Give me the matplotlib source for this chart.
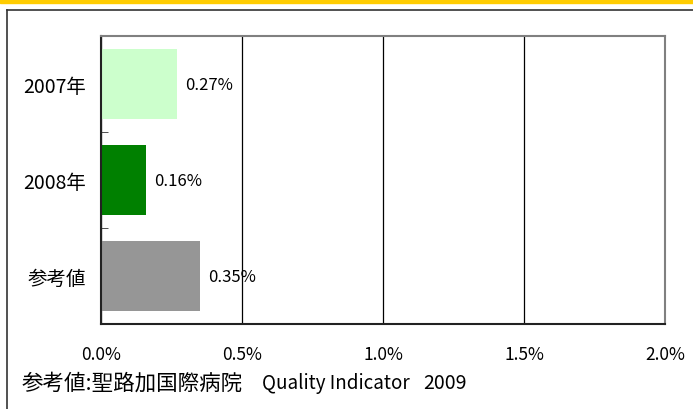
import matplotlib.pyplot as plt
from matplotlib.patches import Rectangle
from matplotlib.lines import Line2D

plt.rcParams['font.family'] = ['Noto Sans CJK JP', 'DejaVu Sans']

categories = ['2007年', '2008年', '参考値']
values = [0.27, 0.16, 0.35]
bar_colors = ['#CCFFCC', '#008000', '#969696']
x_ticks = [0.0, 0.5, 1.0, 1.5, 2.0]
x_tick_labels = ['0.0%', '0.5%', '1.0%', '1.5%', '2.0%']
footnote_parts = ['参考値:聖路加国際病院', 'Quality Indicator', '2009']

W, H = 693, 410
fig = plt.figure(figsize=(W / 100, H / 100), dpi=100)

# 上部の黄色い帯と外枠
fig.patches.append(Rectangle((0, 1 - 4 / H), 1, 4 / H, transform=fig.transFigure,
                             color='#FFCC00', zorder=0))
fig.lines.append(Line2D([7 / W, 7 / W], [0, 1 - 11 / H], transform=fig.transFigure,
                        color='#333333', lw=1.2))
fig.lines.append(Line2D([7 / W, 1], [1 - 11 / H, 1 - 11 / H], transform=fig.transFigure,
                        color='#333333', lw=1.2))

ax = fig.add_axes([101 / W, 1 - 325 / H, 564 / W, 288 / H])
ypos = list(range(len(categories)))
ax.barh(ypos, values, height=0.72, color=bar_colors, zorder=2)
ax.set_ylim(len(categories) - 0.5, -0.5)
ax.set_xlim(0, 2.0)

for y, v in zip(ypos, values):
    ax.text(v + 0.03, y, f'{v:.2f}%', va='center', ha='left', fontsize=12, zorder=3)

ax.set_xticks(x_ticks)
ax.set_xticklabels(x_tick_labels, fontsize=12.5)
ax.tick_params(axis='x', length=0, pad=15)
ax.set_yticks(ypos)
ax.set_yticklabels(categories, fontsize=14)
ax.set_yticks([0.5, 1.5], minor=True)
ax.tick_params(axis='y', which='major', length=0, pad=11)
ax.tick_params(axis='y', which='minor', length=5, direction='in', color='#333333')
ax.grid(axis='x', color='black', lw=0.9, zorder=1)

for side in ['left', 'bottom']:
    ax.spines[side].set_color('#222222')
    ax.spines[side].set_linewidth(1.5)
for side in ['top', 'right']:
    ax.spines[side].set_color('#808080')
    ax.spines[side].set_linewidth(1.5)

# 注記（原図の文字幅に合わせて語ごとに配置）
for x, part, size in zip([22, 262, 423], footnote_parts, [15.5, 13.5, 14]):
    fig.text(x / W, 1 - 384 / H, part, fontsize=size, va='center', ha='left')

fig.savefig('out.png', dpi=100)
